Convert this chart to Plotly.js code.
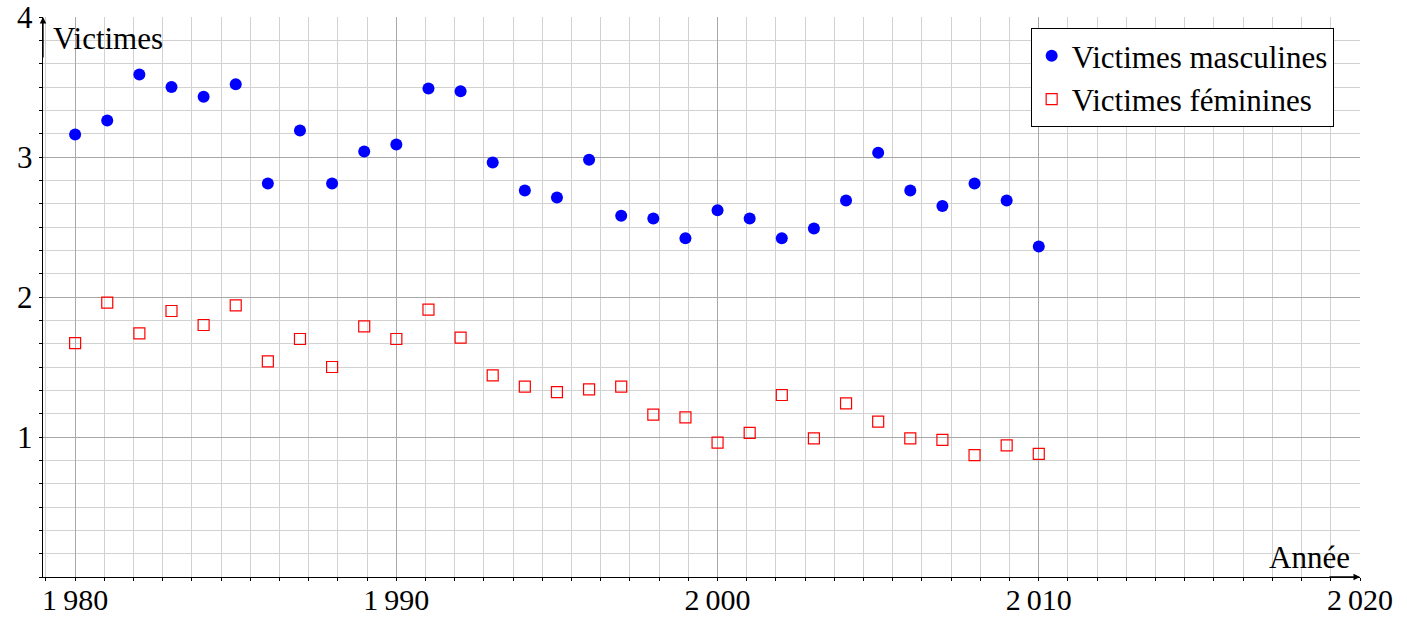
<!DOCTYPE html>
<html><head><meta charset="utf-8">
<script src="https://cdn.plot.ly/plotly-3.0.1.min.js"></script>
<style>html,body{margin:0;padding:0;background:#fff}#chart{width:1407px;height:618px}</style>
</head><body><div id="chart"></div>
<script>
const years = [1980,1981,1982,1983,1984,1985,1986,1987,1988,1989,1990,1991,1992,1993,1994,1995,1996,1997,1998,1999,2000,2001,2002,2003,2004,2005,2006,2007,2008,2009,2010];
const male = [3.16,3.26,3.59,3.50,3.43,3.52,2.81,3.19,2.81,3.04,3.09,3.49,3.47,2.96,2.76,2.71,2.98,2.58,2.56,2.42,2.62,2.56,2.42,2.49,2.69,3.03,2.76,2.65,2.81,2.69,2.36];
const female = [1.67,1.96,1.74,1.90,1.80,1.94,1.54,1.70,1.50,1.79,1.70,1.91,1.71,1.44,1.36,1.32,1.34,1.36,1.16,1.14,0.96,1.03,1.30,0.99,1.24,1.11,0.99,0.98,0.87,0.94,0.88];
const xTicks = [1980,1990,2000,2010,2020];
const xTickText = ['1\u2009980','1\u2009990','2\u2009000','2\u2009010','2\u2009020'];
const yTicks = [1,2,3,4];
const yTickText = ['1','2','3','4'];

const FONT = 'Liberation Serif';
const FS = 31;
const traces = [
  {x: years, y: male, type:'scatter', mode:'markers', name:'Victimes masculines',
   marker:{symbol:'circle', size:12, color:'#0000ff', line:{width:0}}},
  {x: years, y: female, type:'scatter', mode:'markers', name:'Victimes féminines',
   marker:{symbol:'square-open', size:11, color:'#ff0000', line:{width:1.2, color:'#ff0000'}}}
];
const layout = {
  width:1407, height:618,
  margin:{l:43, r:47, t:17, b:41},
  paper_bgcolor:'#fff', plot_bgcolor:'#fff',
  font:{family:FONT, size:FS, color:'#000'},
  showlegend:true,
  legend:{x:0.980, xanchor:'right', y:0.980, yanchor:'top', xref:'paper', yref:'paper',
    bgcolor:'#fff', bordercolor:'#000', borderwidth:1, font:{family:FONT, size:31, color:'#000'},
    itemwidth:30, tracegroupgap:0},
  xaxis:{range:[1979,2020], tickmode:'array', tickvals:xTicks, ticktext:xTickText,
    showgrid:true, gridcolor:'#a8a8a8', gridwidth:1, zeroline:false,
    showline:true, linecolor:'#000', linewidth:1.3,
    ticks:'outside', ticklen:3, tickcolor:'#000', tickfont:{family:FONT,size:30},
    ticklabelstandoff:-7,
    minor:{dtick:10/11, tick0:1980, showgrid:true, gridcolor:'#d2d2d2', gridwidth:1, ticks:'outside', ticklen:3, tickcolor:'#000'}},
  yaxis:{range:[0,4], tickmode:'array', tickvals:yTicks, ticktext:yTickText,
    showgrid:true, gridcolor:'#a8a8a8', gridwidth:1, zeroline:false,
    showline:true, linecolor:'#000', linewidth:1.3, ticklabeloverflow:'allow',
    ticks:'outside', ticklen:3, tickcolor:'#000', tickfont:{family:FONT,size:FS},
    minor:{dtick:1/6, tick0:0, showgrid:true, gridcolor:'#d2d2d2', gridwidth:1, ticks:'outside', ticklen:3, tickcolor:'#000'}},
  annotations:[
    {x:1979, y:4, xref:'x', yref:'y', ax:1979, ay:3.7, axref:'x', ayref:'y', showarrow:true,
     arrowhead:2, arrowsize:1, arrowwidth:1.3, arrowcolor:'#000', text:''},
    {x:2020, y:0, xref:'x', yref:'y', ax:2019, ay:0, axref:'x', ayref:'y', showarrow:true,
     arrowhead:2, arrowsize:1, arrowwidth:1.3, arrowcolor:'#000', text:''},
    {x:1979, y:4, xref:'x', yref:'y', xanchor:'left', yanchor:'top', xshift:8, yshift:-2, showarrow:false,
     text:'Victimes', font:{family:FONT, size:FS, color:'#000'}},
    {x:2020, y:0, xref:'x', yref:'y', xanchor:'right', yanchor:'bottom', xshift:-8, yshift:0, showarrow:false,
     text:'Année', font:{family:FONT, size:FS, color:'#000'}}
  ]
};
Plotly.newPlot('chart', traces, layout, {displayModeBar:false, staticPlot:true});
</script></body></html>
